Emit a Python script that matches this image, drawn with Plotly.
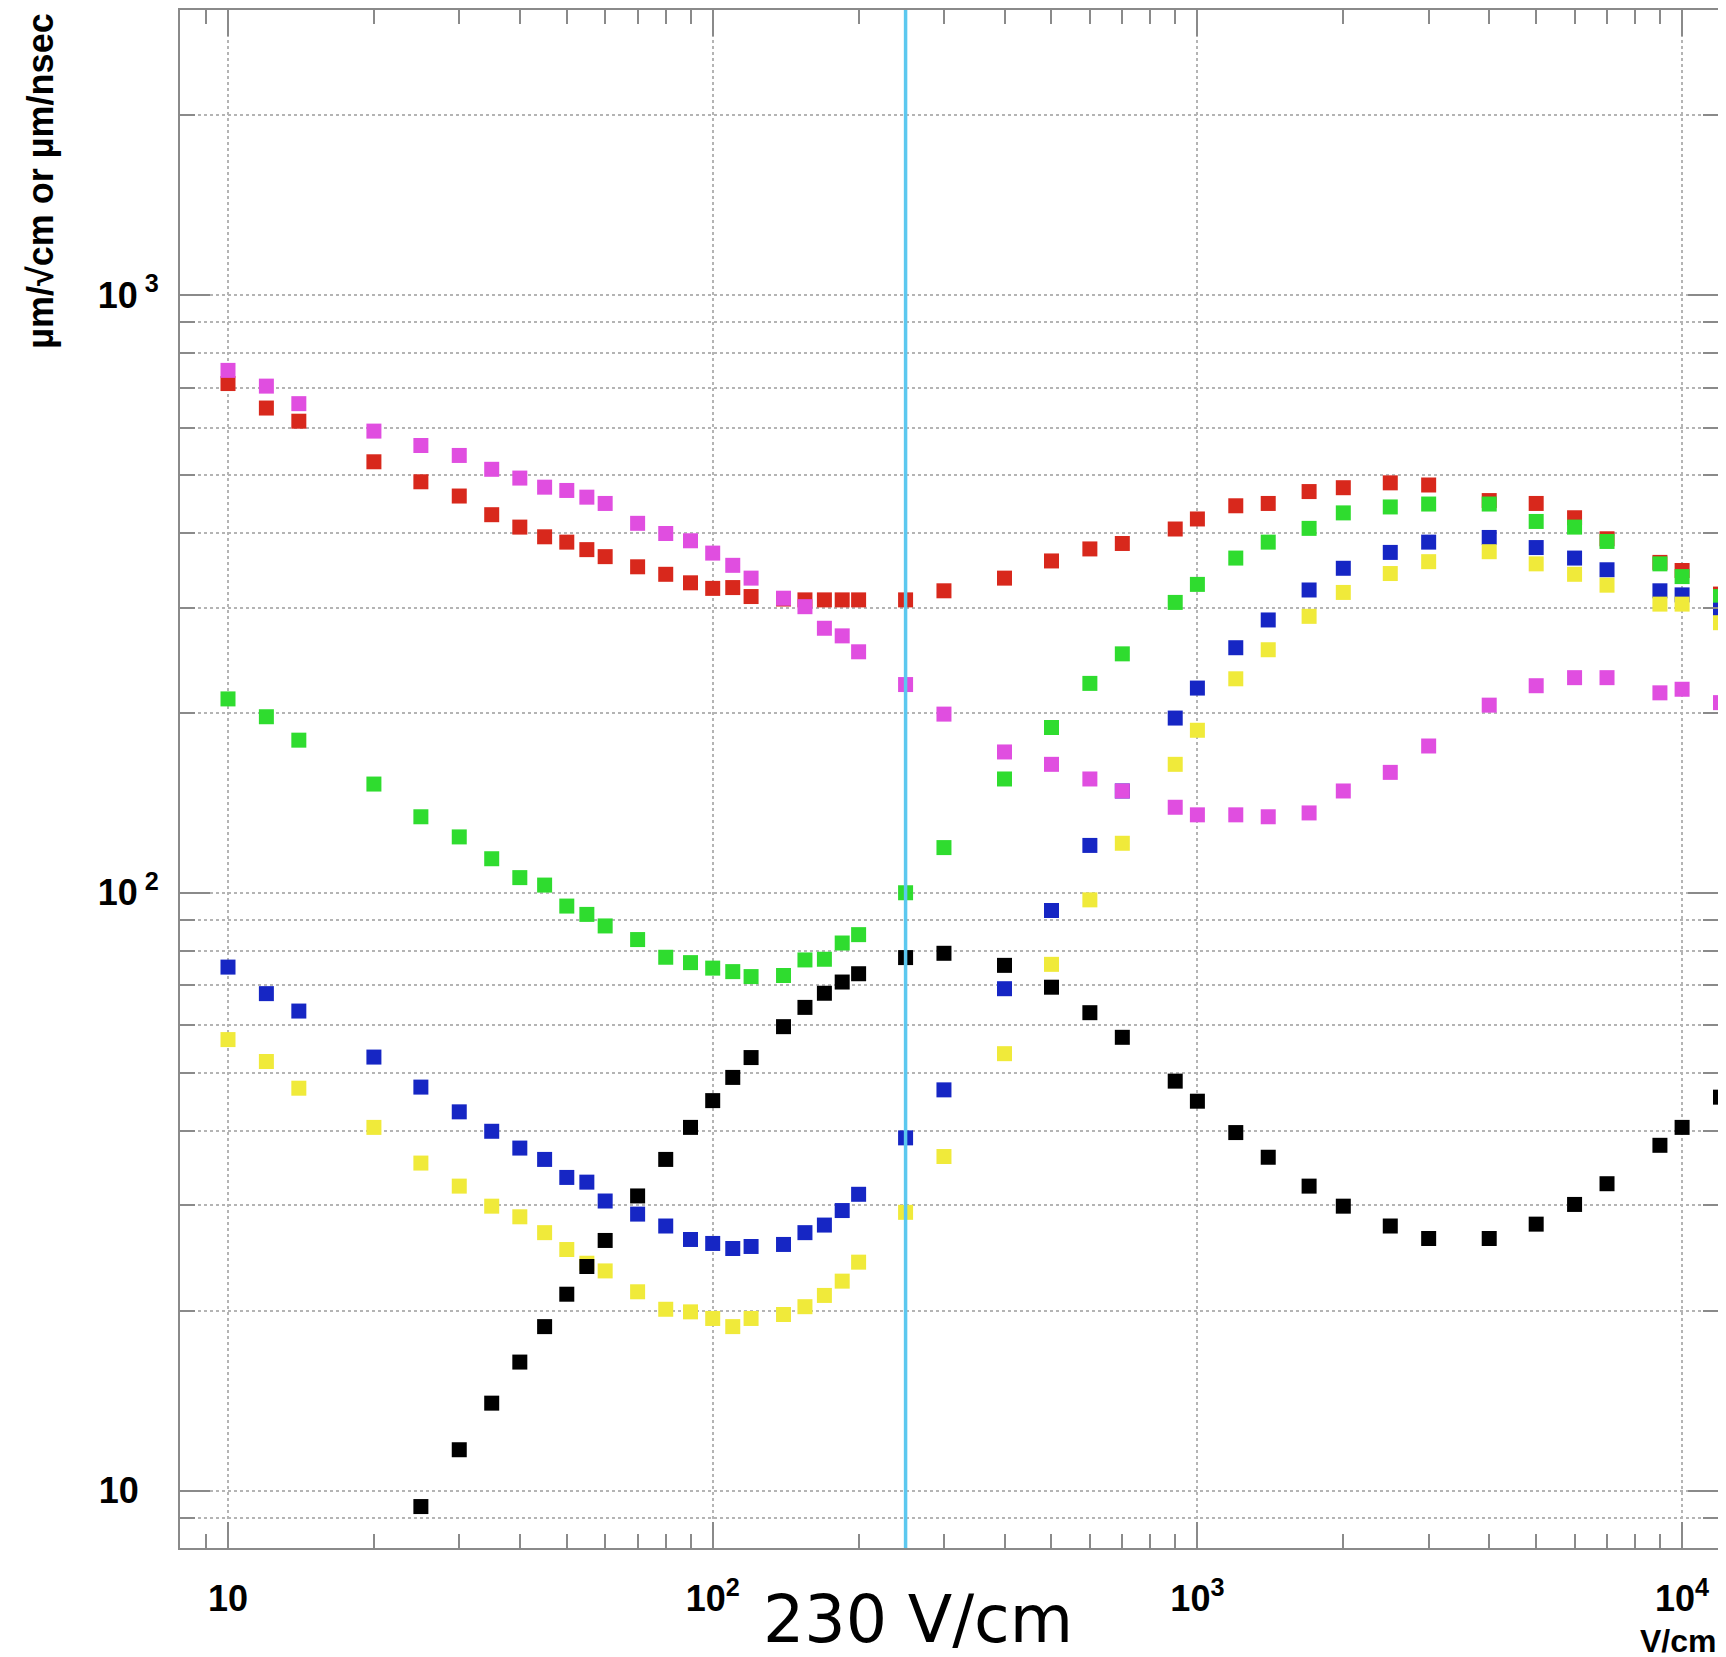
import plotly.graph_objects as go

# ---- data ----
field = [10, 12, 14, 20, 25, 30, 35, 40, 45, 50, 55, 60, 70, 80, 90, 100, 110, 120, 140, 155,
         170, 185, 200, 250, 300, 400, 500, 600, 700, 900, 1000, 1200, 1400, 1700, 2000, 2500,
         3000, 4000, 5000, 6000, 7000, 9000, 10000, 12000]

red = [711, 647, 615, 526, 487, 461, 429, 409, 394, 386, 375, 365, 351, 341, 330, 323, 324, 313,
       310, 309, 309, 309, 309, 309, 320, 336, 359, 376, 384, 406, 422, 444, 448, 469, 476, 485,
       481, 453, 448, 424, 391, 357, 346, 316]

magenta = [748, 704, 658, 592, 560, 539, 511, 494, 477, 471, 459, 448, 415, 399, 388, 370, 353,
           336, 311, 301, 277, 269, 253, 223, 199, 172, 164, 155, 148, 139, 135, 135, 134, 136,
           148, 159, 176, 206, 222, 229, 229, 216, 219, 208]

green = [211, 197, 180, 152, 134, 124, 114, 106, 103, 95, 92, 88, 83.5, 78, 76.4, 74.8, 73.8,
         72.4, 72.7, 77.2, 77.4, 82.4, 85.1, 100, 119, 155, 189, 224, 251, 306, 328, 363, 386,
         407, 432, 442, 447, 447, 418, 409, 387, 355, 338, 313]

blue = [75.1, 67.8, 63.4, 53.1, 47.3, 43, 39.9, 37.4, 35.8, 33.4, 32.8, 30.5, 29.0, 27.7, 26.3,
        25.9, 25.4, 25.6, 25.8, 27.0, 27.8, 29.4, 31.3, 38.9, 46.8, 69.1, 93.4, 120, 148, 196,
        220, 257, 286, 321, 349, 371, 386, 393, 378, 363, 347, 320, 315, 297]

yellow = [56.8, 52.2, 47.1, 40.5, 35.3, 32.3, 29.9, 28.7, 27.0, 25.3, 24.0, 23.3, 21.5, 20.1,
          19.9, 19.4, 18.8, 19.4, 19.7, 20.3, 21.2, 22.4, 24.1, 29.2, 36.2, 53.8, 75.9, 97.3,
          121, 164, 187, 228, 255, 290, 318, 342, 358, 372, 355, 341, 327, 304, 304, 283]

black = [None, None, None, None, 9.4, 11.7, 14.0, 16.4, 18.8, 21.3, 23.7, 26.2, 31.1, 35.8,
         40.5, 44.9, 49.1, 53.0, 59.7, 64.3, 67.9, 70.9, 73.2, 77.9, 79.2, 75.6, 69.5, 63.0,
         57.3, 48.4, 44.8, 39.7, 36.1, 32.3, 29.9, 27.7, 26.4, 26.4, 27.9, 30.1, 32.6, 37.8,
         40.5, 45.5]

series = [
    ("red", red, "#d8281c"),
    ("green", green, "#2fdc2f"),
    ("blue", blue, "#1626c4"),
    ("yellow", yellow, "#f0ea3a"),
    ("black", black, "#000000"),
    ("magenta", magenta, "#e04ee0"),
]

marker_line_x = 250
marker_line_label = "230 V/cm"

x_major = [10, 100, 1000, 10000]
x_major_text = ["10", "10<sup>2</sup>", "10<sup>3</sup>", "10<sup>4</sup>"]
x_minor = [9] + [m * d for d in [10, 100, 1000] for m in range(2, 10)]
y_major = [10, 100, 1000]
y_major_text = ["10\u00a0\u00a0", "10<sup>\u00a02</sup>", "10<sup>\u00a03</sup>"]
y_minor = [9] + [m * d for d in [10, 100, 1000] for m in range(2, 10) if m * d <= 2000]

fig = go.Figure()
for name, vals, col in series:
    fig.add_trace(go.Scatter(
        x=field, y=vals, mode="markers", name=name,
        marker=dict(symbol="square", size=15, color=col, line=dict(width=0)),
        cliponaxis=True, showlegend=False,
    ))

fig.add_shape(type="line", xref="x", yref="paper", x0=marker_line_x, x1=marker_line_x,
              y0=0, y1=1, line=dict(color="#5cc8ef", width=3.5), layer="above")

tickfont = dict(family="Liberation Sans, Arial, sans-serif", size=36, color="black", weight="bold")
axis_common = dict(
    type="log", showline=True, linecolor="#8a8a8a", linewidth=2, mirror="ticks",
    ticks="inside", tickcolor="#8a8a8a", tickwidth=1.5,
    showgrid=True, gridcolor="#b4b4b4", griddash="dot", gridwidth=1.5,
    zeroline=False, tickfont=tickfont, automargin=False,
)

fig.update_xaxes(
    **axis_common,
    range=[0.90097, 4.07407],
    tickmode="array", tickvals=x_major, ticktext=x_major_text, ticklen=26,
    ticklabelstandoff=18,
    minor=dict(tickmode="array", tickvals=x_minor, ticks="inside", ticklen=14,
               tickcolor="#8a8a8a", tickwidth=1.5, showgrid=False),
)
fig.update_yaxes(
    **axis_common,
    range=[0.9038, 3.4768],
    tickmode="array", tickvals=y_major, ticktext=y_major_text, ticklen=30,
    ticklabelstandoff=12,
    minor=dict(tickmode="array", tickvals=y_minor, ticks="inside", ticklen=15,
               tickcolor="#8a8a8a", tickwidth=1.5, showgrid=True, gridcolor="#b4b4b4",
               griddash="dot", gridwidth=1.5),
)

# page body has an 8px margin: the figure is drawn from (8, 8)
fig.add_annotation(text="µm/√cm or µm/nsec", xref="paper", yref="paper",
                   x=-0.0904, y=0.889, xanchor="center", yanchor="middle", textangle=-90,
                   showarrow=False,
                   font=dict(family="Liberation Sans, Arial, sans-serif", size=36,
                             color="black", weight="bold"))
fig.add_annotation(text="V/cm", xref="paper", yref="paper", x=1.0, y=-0.0605,
                   xanchor="right", yanchor="middle", showarrow=False,
                   font=dict(family="Liberation Sans, Arial, sans-serif", size=32,
                             color="black", weight="bold"))
fig.add_annotation(text=marker_line_label, xref="paper", yref="paper", x=0.4798, y=-0.0468,
                   xanchor="center", yanchor="middle", showarrow=False,
                   font=dict(family="DejaVu Sans, sans-serif", size=65, color="black"))

fig.update_layout(
    width=1718, height=1649,
    margin=dict(l=172, r=8, t=2, b=109),
    paper_bgcolor="white", plot_bgcolor="white",
    showlegend=False,
)

fig.write_html("out.html")
